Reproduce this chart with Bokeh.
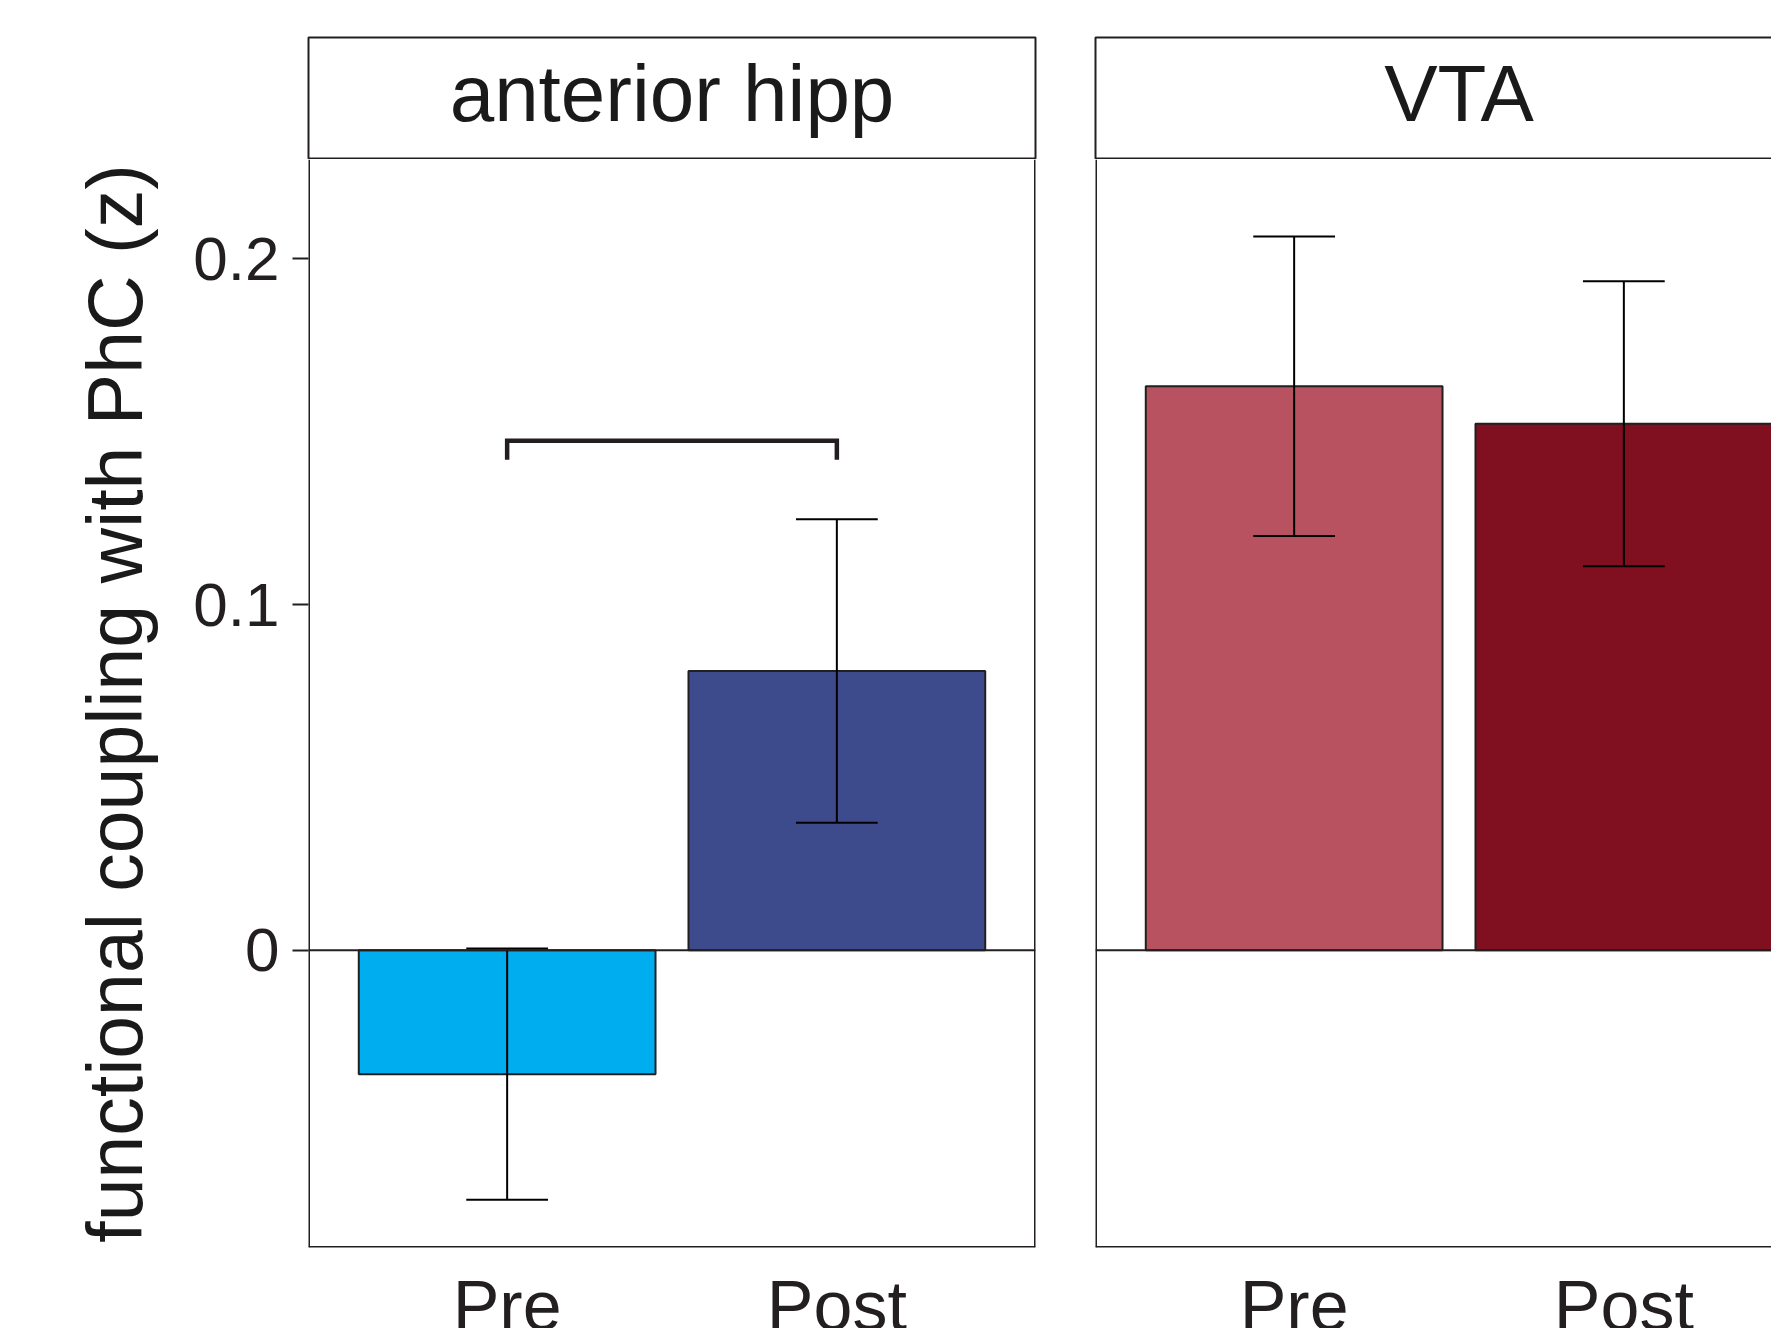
from bokeh.plotting import figure
from bokeh.layouts import row, column
from bokeh.models import Span, Label, ColumnDataSource, FixedTicker
from bokeh.embed import file_html
from bokeh.resources import INLINE

# ---- data ----
regions = ["anterior hipp", "VTA"]
sessions = ["Pre", "Post"]
hipp_mean = [-0.0358, 0.0808]
hipp_se = [0.0363, 0.0439]
vta_mean = [0.1631, 0.1523]
vta_se = [0.0433, 0.0412]
hipp_colors = ["#00AEEF", "#3D4B8C"]
vta_colors = ["#B85260", "#800F1F"]
y_ticks = [0, 0.1, 0.2]
y_tick_labels = ["0", "0.1", "0.2"]
sig_pair = [1, 2]          # bracket between Pre and Post (anterior hipp)
sig_level = 0.1474
y_label = "functional coupling with PhC (z)"

# ---- style / layout constants ----
FONT = "Liberation Sans"
INK = "#231F20"
PX_PER_UNIT_Y = 3458.0
WIN_W, WIN_H = 1771, 1328
STRIP_TOP_PX = 37
STRIP_FRAME_H = 121
FRAME_W = 727
MAIN_FRAME_H = 1088
Y_END = 0.2287
Y_START = Y_END - MAIN_FRAME_H / PX_PER_UNIT_Y
X_RANGE = (0.3975, 2.6025)
BAR_W = 0.9
CAP_HALF = 0.124


def strip(title, left_b, right_b):
    s = figure(frame_width=FRAME_W, frame_height=STRIP_FRAME_H,
               x_range=X_RANGE, y_range=(0, 1),
               output_backend="svg", toolbar_location=None,
               min_border_left=left_b, min_border_right=right_b,
               min_border_top=STRIP_TOP_PX, min_border_bottom=1,
               background_fill_color="white", border_fill_color="white")
    s.axis.visible = False
    s.grid.visible = False
    s.outline_line_color = INK
    s.outline_line_width = 2
    s.add_layout(Label(x=1.5, y=0.537, text=title, text_align="center",
                       text_baseline="alphabetic", text_font=FONT,
                       text_font_size="80px", text_color="#1A1A1A"))
    return s


def panel(means, ses, colors, left_b, right_b, show_y):
    xs = [i + 1 for i in range(len(sessions))]
    src = ColumnDataSource(dict(
        x=xs, top=means, color=colors,
        up=[m + s for m, s in zip(means, ses)],
        lo=[m - s for m, s in zip(means, ses)],
        cl=[x - CAP_HALF for x in xs], cr=[x + CAP_HALF for x in xs],
    ))
    p = figure(frame_width=FRAME_W, frame_height=MAIN_FRAME_H,
               x_range=X_RANGE, y_range=(Y_START, Y_END),
               output_backend="svg", toolbar_location=None,
               min_border_left=left_b, min_border_right=right_b,
               min_border_top=0, min_border_bottom=60,
               background_fill_color="white", border_fill_color="white")
    p.grid.visible = False
    # frame border: left, right, bottom (the top edge is the strip's lower border)
    p.outline_line_color = None
    for loc in X_RANGE:
        p.add_layout(Span(location=loc, dimension="height", line_color=INK, line_width=3))
    p.add_layout(Span(location=Y_START, dimension="width", line_color=INK, line_width=3))

    p.vbar(x="x", top="top", bottom=0, width=BAR_W, fill_color="color",
           line_color=INK, line_width=2, source=src)
    p.add_layout(Span(location=0, dimension="width", line_color=INK, line_width=2))
    p.segment(x0="x", y0="lo", x1="x", y1="up", line_color="black", line_width=2, source=src)
    p.segment(x0="cl", y0="up", x1="cr", y1="up", line_color="black", line_width=2, source=src)
    p.segment(x0="cl", y0="lo", x1="cr", y1="lo", line_color="black", line_width=2, source=src)

    xa = p.xaxis[0]
    xa.ticker = FixedTicker(ticks=xs)
    xa.major_label_overrides = {x: s for x, s in zip(xs, sessions)}
    xa.axis_line_color = None
    xa.major_tick_line_color = None
    xa.minor_tick_line_color = None
    xa.major_label_text_font = FONT
    xa.major_label_text_font_size = "70px"
    xa.major_label_text_color = INK
    xa.major_label_standoff = 13

    ya = p.yaxis[0]
    if show_y:
        ya.ticker = FixedTicker(ticks=y_ticks)
        ya.major_label_overrides = {t: s for t, s in zip(y_ticks, y_tick_labels)}
        ya.axis_line_color = None
        ya.major_tick_in = 0
        ya.major_tick_out = 16
        ya.major_tick_line_color = INK
        ya.major_tick_line_width = 2
        ya.minor_tick_line_color = None
        ya.major_label_text_font = FONT
        ya.major_label_text_font_size = "62px"
        ya.major_label_text_color = INK
        ya.major_label_standoff = 13
        ya.axis_label = y_label
        ya.axis_label_text_font = FONT
        ya.axis_label_text_font_size = "77px"
        ya.axis_label_text_font_style = "normal"
        ya.axis_label_text_color = "#1A1A1A"
        ya.axis_label_standoff = 32
    else:
        ya.visible = False
    return p


strip_l = strip(regions[0], 308, 30)
main_l = panel(hipp_mean, hipp_se, hipp_colors, 308, 30, True)
bx = [sig_pair[0], sig_pair[0], sig_pair[1], sig_pair[1]]
by = [sig_level - 0.0055, sig_level, sig_level, sig_level - 0.0055]
main_l.line(bx, by, line_color=INK, line_width=4.5, line_join="miter")

strip_r = strip(regions[1], 30, 0)
main_r = panel(vta_mean, vta_se, vta_colors, 30, 0, False)

layout = row(column(strip_l, main_l, spacing=0), column(strip_r, main_r, spacing=0),
             spacing=0,
             styles={"overflow": "hidden", "max-width": f"{WIN_W}px", "max-height": f"{WIN_H}px"})
open("out.html", "w").write(file_html(layout, INLINE))
